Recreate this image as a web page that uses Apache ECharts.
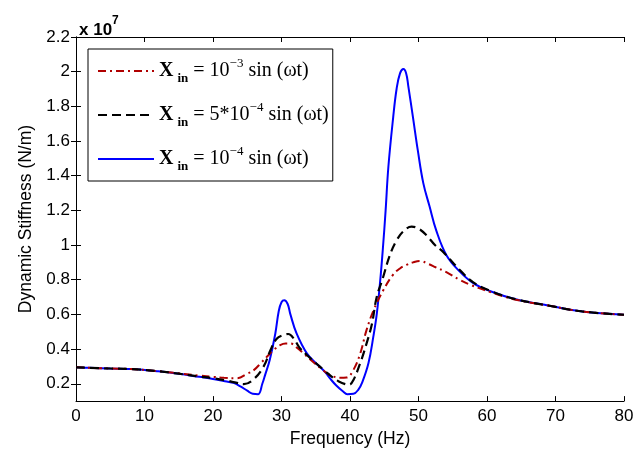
<!DOCTYPE html>
<html>
<head>
<meta charset="utf-8">
<script src="https://cdn.jsdelivr.net/npm/echarts@6/dist/echarts.min.js"></script>
<style>
  html, body { margin: 0; padding: 0; background: #fff; }
  #chart { width: 644px; height: 453px; }
</style>
</head>
<body>
<div id="chart"></div>
<script>
// Dynamic stiffness (units of 1e7 N/m) versus excitation frequency (Hz)
// for three input displacement amplitudes.
const seriesNames = ['amp1e3', 'amp5e4', 'amp1e4'];

const stiffAmp1e3 = [
  [0, 0.295], [5, 0.288], [8, 0.285], [12, 0.273], [15, 0.26], [18, 0.247],
  [20, 0.24], [21.6, 0.234], [23.5, 0.232], [25, 0.258], [26, 0.28], [27, 0.32],
  [27.9, 0.357], [29, 0.40], [29.8, 0.423], [30.6, 0.432], [31.3, 0.432],
  [32.2, 0.41], [33.2, 0.375], [34.5, 0.33], [36, 0.28], [37.1, 0.25],
  [38.5, 0.234], [39.5, 0.236], [40.5, 0.28], [41.5, 0.375], [42.4, 0.508],
  [43.4, 0.62], [44.8, 0.735], [46.3, 0.83], [47.3, 0.865], [48.2, 0.885],
  [49.2, 0.9], [50.2, 0.908], [51.5, 0.89], [52.5, 0.872], [54, 0.845],
  [56, 0.8], [57.5, 0.772], [60.4, 0.73], [64.2, 0.685], [69.1, 0.65],
  [73.9, 0.617], [80, 0.598]
];

const stiffAmp5e4 = [
  [0, 0.295], [5, 0.288], [8, 0.285], [12, 0.272], [15, 0.258], [18, 0.242],
  [20, 0.232], [22, 0.218], [23.5, 0.205], [24.5, 0.198], [25.9, 0.225],
  [27.4, 0.30], [28.4, 0.395], [29.3, 0.46], [30.2, 0.48], [31, 0.487],
  [31.8, 0.46], [32.6, 0.41], [33.7, 0.366], [35, 0.32], [36.3, 0.275],
  [37.5, 0.235], [38.3, 0.215], [39.3, 0.198], [39.9, 0.195], [40.5, 0.222],
  [41.5, 0.32], [42.4, 0.43], [43.2, 0.545], [43.9, 0.70], [44.8, 0.81],
  [45.8, 0.94], [46.8, 1.027], [47.8, 1.08], [49, 1.106], [50, 1.095],
  [51.2, 1.055], [52.4, 1.0], [53.6, 0.96], [56, 0.857], [58, 0.785],
  [60.4, 0.737], [64.2, 0.688], [69.1, 0.65], [73.9, 0.617], [80, 0.598]
];

const stiffAmp1e4 = [
  [0, 0.295], [2, 0.292], [5, 0.288], [8, 0.285], [12, 0.272], [15, 0.258],
  [18, 0.24], [20, 0.228], [22, 0.213], [23, 0.205], [24, 0.185], [25, 0.16],
  [25.8, 0.142], [26.6, 0.14], [27.2, 0.2], [27.6, 0.25], [28.3, 0.34],
  [29.1, 0.49], [29.6, 0.62], [30.0, 0.67], [30.4, 0.681], [30.9, 0.66],
  [31.3, 0.60], [32.2, 0.49], [33.7, 0.375], [35, 0.32], [36.3, 0.27],
  [37.2, 0.225], [38, 0.19], [39, 0.155], [39.6, 0.14], [40.5, 0.142],
  [41.2, 0.165], [41.8, 0.21], [42.7, 0.32], [43.4, 0.47], [43.9, 0.60],
  [44.4, 0.79], [44.8, 0.98], [45.2, 1.2], [45.6, 1.45], [46.3, 1.735],
  [46.8, 1.90], [47.3, 1.99], [47.8, 2.015], [48.2, 1.99], [48.5, 1.92],
  [49.2, 1.735], [49.9, 1.546], [50.7, 1.357], [51.6, 1.225], [52.6, 1.083],
  [54.1, 0.94], [56, 0.848], [58, 0.78], [60.4, 0.735], [64.2, 0.687],
  [69.1, 0.65], [73.9, 0.617], [80, 0.598]
];

const yTicks = [0.2, 0.4, 0.6, 0.8, 1, 1.2, 1.4, 1.6, 1.8, 2, 2.2];

const legendText = {
  amp1e3: '{x|X}{sub|in}{t| = 10}{sup|−3}{t| sin (ωt)}',
  amp5e4: '{x|X}{sub|in}{t| = 5*10}{sup|−4}{t| sin (ωt)}',
  amp1e4: '{x|X}{sub|in}{t| = 10}{sup|−4}{t| sin (ωt)}'
};

const sansFont = '"Liberation Sans", Arial, sans-serif';
const serifFont = '"Liberation Serif", "Times New Roman", serif';

const tickStyle = { show: true, inside: true, length: 5, lineStyle: { color: '#000', width: 1 } };
const lineAxis = { show: true, lineStyle: { color: '#000', width: 1 } };

const chart = echarts.init(document.getElementById('chart'), null, { renderer: 'canvas' });

chart.setOption({
  animation: false,
  backgroundColor: '#fff',
  title: {
    text: '{a|x 10}{b|7}',
    left: 74,
    top: 10,
    textStyle: {
      rich: {
        a: { fontFamily: sansFont, fontSize: 17, color: '#000', verticalAlign: 'bottom', lineHeight: 24 },
        b: { fontFamily: sansFont, fontSize: 12, color: '#000', verticalAlign: 'top', lineHeight: 24 }
      }
    }
  },
  grid: { left: 76, right: 20, top: 37, bottom: 48 },
  legend: {
    orient: 'vertical',
    left: 88,
    top: 49,
    padding: [8, 4, 8, 9],
    itemGap: 16,
    itemWidth: 56,
    itemHeight: 14,
    backgroundColor: '#fff',
    borderColor: '#000',
    borderWidth: 1,
    borderRadius: 0,
    itemStyle: { opacity: 0 },
    data: seriesNames,
    formatter: function (name) { return legendText[name]; },
    textStyle: {
      color: '#000',
      rich: {
        x: { fontFamily: serifFont, fontSize: 20, fontWeight: 'bold', lineHeight: 28, verticalAlign: 'middle' },
        sub: { fontFamily: serifFont, fontSize: 13, fontWeight: 'bold', lineHeight: 28, verticalAlign: 'bottom', padding: [0, 0, 0, 4] },
        t: { fontFamily: serifFont, fontSize: 20, lineHeight: 28, verticalAlign: 'middle' },
        sup: { fontFamily: serifFont, fontSize: 13, lineHeight: 28, verticalAlign: 'top' }
      }
    }
  },
  xAxis: [
    {
      type: 'value', min: 0, max: 80, interval: 10,
      name: 'Frequency (Hz)', nameLocation: 'middle', nameGap: 27,
      nameTextStyle: { fontFamily: sansFont, fontSize: 17.5, color: '#000' },
      axisLine: lineAxis, axisTick: tickStyle,
      axisLabel: { fontFamily: sansFont, fontSize: 17, color: '#000', margin: 7 },
      splitLine: { show: false }
    },
    {
      type: 'value', min: 0, max: 80, interval: 10, position: 'top',
      axisLine: lineAxis, axisTick: tickStyle,
      axisLabel: { show: false }, splitLine: { show: false }
    }
  ],
  yAxis: [
    {
      type: 'value', min: 0.1, max: 2.2,
      name: 'Dynamic Stiffness (N/m)', nameLocation: 'middle', nameGap: 34,
      nameTextStyle: { fontFamily: sansFont, fontSize: 17.5, color: '#000' },
      axisLine: lineAxis,
      axisTick: Object.assign({}, tickStyle, { customValues: yTicks }),
      axisLabel: { fontFamily: sansFont, fontSize: 17, color: '#000', margin: 6, customValues: yTicks },
      splitLine: { show: false }
    },
    {
      type: 'value', min: 0.1, max: 2.2, position: 'right',
      axisLine: lineAxis,
      axisTick: Object.assign({}, tickStyle, { customValues: yTicks }),
      axisLabel: { show: false, customValues: yTicks },
      splitLine: { show: false }
    }
  ],
  series: [
    {
      name: 'amp1e3', type: 'line', data: stiffAmp1e3,
      symbol: 'none', smooth: 0.4, z: 3,
      lineStyle: { color: '#b00000', width: 2, type: [8, 4, 2, 4] },
      itemStyle: { color: '#b00000' }
    },
    {
      name: 'amp5e4', type: 'line', data: stiffAmp5e4,
      symbol: 'none', smooth: 0.4, z: 4,
      lineStyle: { color: '#000000', width: 2.2, type: [9, 5] },
      itemStyle: { color: '#000000' }
    },
    {
      name: 'amp1e4', type: 'line', data: stiffAmp1e4,
      symbol: 'none', smooth: 0.4, z: 2,
      lineStyle: { color: '#0000ff', width: 2 },
      itemStyle: { color: '#0000ff' }
    }
  ]
});
</script>
</body>
</html>
